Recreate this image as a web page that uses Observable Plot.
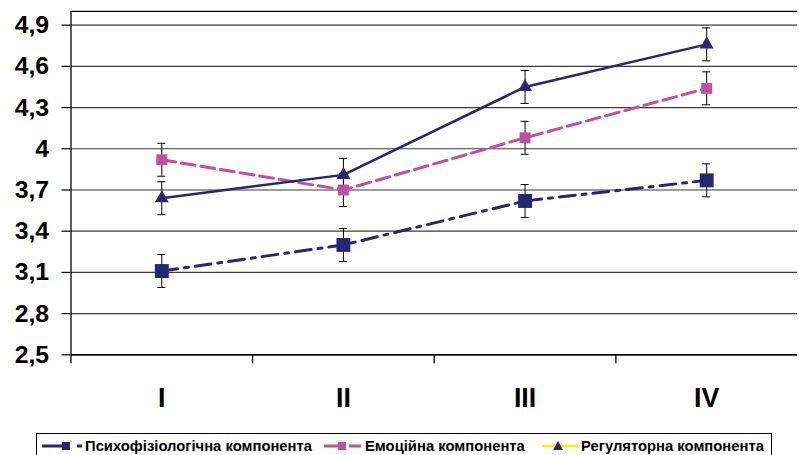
<!DOCTYPE html>
<html>
<head>
<meta charset="utf-8">
<script src="https://cdn.jsdelivr.net/npm/d3@7"></script>
<script src="https://cdn.jsdelivr.net/npm/@observablehq/plot@0.6"></script>
<style>
  html, body { margin: 0; padding: 0; background: #fff; overflow: hidden; width: 799px; height: 455px; }
  #chart { position: absolute; left: 0; top: 0; }
  #legend { position: absolute; left: 36px; top: 433px; width: 736px; height: 24px; border: 1px solid #000; box-sizing: border-box;
            font-family: "Liberation Sans", Arial, sans-serif; font-weight: bold; font-size: 14.8px; color: #000; }
  .item { position: absolute; top: 3px; height: 18px; display: flex; align-items: center; white-space: nowrap; }
  .item svg { margin-right: 2px; }
</style>
</head>
<body>
<div id="chart"></div>
<div id="legend"></div>
<script>
const categories = ["I", "II", "III", "IV"];
const seriesNames = ["Психофізіологічна компонента", "Емоційна компонента", "Регуляторна компонента"];
const psycho = [3.11, 3.30, 3.62, 3.77];
const emotion = [3.92, 3.70, 4.08, 4.44];
const regul = [3.64, 3.81, 4.45, 4.76];
const psychoErr = [0.12, 0.12, 0.12, 0.12];
const emotionErr = [0.12, 0.12, 0.12, 0.12];
const regulErr = [0.12, 0.12, 0.12, 0.12];
const yTicks = [2.5, 2.8, 3.1, 3.4, 3.7, 4.0, 4.3, 4.6, 4.9];
const yTop = 5.0;

const navy = "#262674";
const magenta = "#c050a0";
const yellow = "#ffee00";

function rows(values, errs, name) {
  return values.map((v, i) => ({cat: categories[i], xi: i + 0.5, v, e: errs[i], series: name}));
}
const dPsy = rows(psycho, psychoErr, seriesNames[0]);
const dEmo = rows(emotion, emotionErr, seriesNames[1]);
const dReg = rows(regul, regulErr, seriesNames[2]);
const all = [...dPsy, ...dEmo, ...dReg];
const capHalf = 0.022;
const fmt = d => String(d).replace(".", ",");

const chart = Plot.plot({
  width: 805,
  height: 430,
  marginLeft: 71,
  marginRight: 2,
  marginTop: 11,
  marginBottom: 73,
  style: {fontFamily: "'Liberation Sans', Arial, sans-serif", background: "#fff", color: "#000"},
  x: {type: "linear", domain: [0, categories.length], label: null},
  y: {domain: [yTicks[0], yTop], label: null},
  marks: [
    Plot.ruleY(yTicks, {stroke: "#3a3a3a", strokeWidth: 1.2}),
    Plot.ruleY([yTop], {stroke: "#000", strokeWidth: 1.2}),
    Plot.ruleY([yTicks[0]], {stroke: "#000", strokeWidth: 1.6}),
    Plot.ruleX([0], {y1: yTicks[0], y2: yTop, stroke: "#000", strokeWidth: 1.3}),
    Plot.axisY({ticks: yTicks, tickFormat: fmt, tickSize: 9, tickPadding: 13, fontSize: 25, fontWeight: "bold", stroke: "#000", strokeWidth: 1.2, label: null, style: {letterSpacing: "0.5px"}}),
    Plot.axisX({ticks: d3.range(categories.length), tickFormat: () => "", tickSize: 9, stroke: "#000", strokeWidth: 1.3, label: null}),
    Plot.axisX({ticks: categories.map((c, i) => i + 0.5), tickFormat: d => categories[Math.floor(d)], tickSize: 0, tickPadding: 33, fontSize: 27, fontWeight: "bold", label: null}),
    Plot.line(dPsy, {x: "xi", y: "v", stroke: navy, strokeWidth: 3, strokeDasharray: "16,7,4,7"}),
    Plot.line(dEmo, {x: "xi", y: "v", stroke: magenta, strokeWidth: 3, strokeDasharray: "14,6"}),
    Plot.line(dReg, {x: "xi", y: "v", stroke: navy, strokeWidth: 2.5}),
    Plot.ruleX(all, {x: "xi", y1: d => d.v - d.e, y2: d => d.v + d.e, stroke: "#000", strokeWidth: 1}),
    Plot.ruleY(all, {y: d => d.v + d.e, x1: d => d.xi - capHalf, x2: d => d.xi + capHalf, stroke: "#000", strokeWidth: 1}),
    Plot.ruleY(all, {y: d => d.v - d.e, x1: d => d.xi - capHalf, x2: d => d.xi + capHalf, stroke: "#000", strokeWidth: 1}),
    Plot.dot(dPsy, {x: "xi", y: "v", symbol: "square", r: 7.9, fill: navy, stroke: "none"}),
    Plot.dot(dEmo, {x: "xi", y: "v", symbol: "square", r: 6.2, fill: magenta, stroke: "none"}),
    Plot.dot(dReg, {x: "xi", y: "v", symbol: "triangle", r: 5.2, fill: navy, stroke: "none"})
  ]
});
document.getElementById("chart").appendChild(chart);

// Legend
const legend = document.getElementById("legend");
const swatches = [
  {left: 4, svg: `<svg width="42" height="12"><line x1="1" y1="6" x2="22" y2="6" stroke="${navy}" stroke-width="3"/><rect x="21" y="2" width="8" height="8" fill="${navy}"/><line x1="36" y1="6" x2="41" y2="6" stroke="${navy}" stroke-width="3"/></svg>`},
  {left: 286, svg: `<svg width="40" height="12"><line x1="1" y1="6" x2="22" y2="6" stroke="${magenta}" stroke-width="3"/><rect x="15" y="2" width="8" height="8" fill="${magenta}"/><line x1="26" y1="6" x2="38" y2="6" stroke="${magenta}" stroke-width="3"/></svg>`},
  {left: 505, svg: `<svg width="37" height="12"><line x1="0" y1="6" x2="36" y2="6" stroke="${yellow}" stroke-width="2.5"/><path d="M16,1 L21,10 L11,10 Z" fill="${navy}"/></svg>`}
];
seriesNames.forEach((name, i) => {
  const div = document.createElement("div");
  div.className = "item";
  div.style.left = swatches[i].left + "px";
  div.innerHTML = swatches[i].svg + `<span>${name}</span>`;
  legend.appendChild(div);
});
</script>
</body>
</html>
